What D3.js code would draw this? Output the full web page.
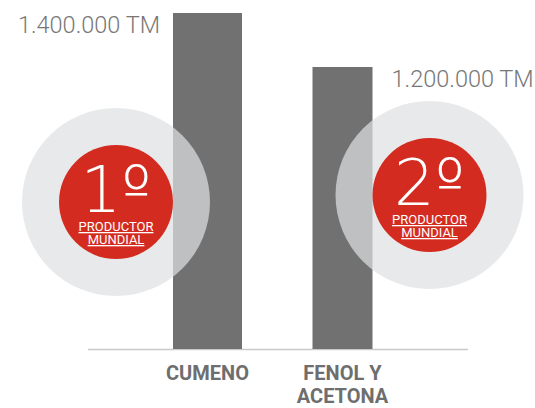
<!DOCTYPE html>
<html>
<head>
	<meta charset="utf-8">
	<title>Cumeno / Fenol y Acetona</title>
	<script src="https://d3js.org/d3.v7.min.js"></script>
	<style>
		body { margin: 0; background: #fff; }
	</style>
</head>
<body>
	<div class="chart"></div>

	<script type="text/javascript">
		// datos
		var categories = ['CUMENO', 'FENOL Y ACETONA']
		var categoryLines = [['CUMENO'], ['FENOL Y', 'ACETONA']]
		var values = [1400000, 1200000]
		var unit = 'TM'
		var ranks = ['1', '2']
		var rankLines = ['PRODUCTOR', 'MUNDIAL']

		var width = 535
		var height = 408
		var baseY = 349

		var grey = '#717171'
		var red = '#d42b20'

		// formato español: 1.400.000
		var es = d3.formatLocale({ decimal: ',', thousands: '.', grouping: [3], currency: ['', ''] })
		var fmt = es.format(',d')

		var svg = d3
			.select('.chart')
			.append('svg')
			.attr('width', width)
			.attr('height', height)

		// escalas
		var xScale = d3
			.scalePoint()
			.domain(categories)
			.range([140, 410])
			.padding(0.5)

		var yScale = d3
			.scaleLinear()
			.domain([0, 1400000])
			.range([391, 13])

		var barW = [69, 60]

		// línea base
		svg.append('line')
			.attr('x1', 88)
			.attr('x2', 468)
			.attr('y1', baseY + 0.5)
			.attr('y2', baseY + 0.5)
			.attr('stroke', '#c9c9c9')
			.attr('stroke-width', 1.5)

		// barras
		svg.selectAll('rect.bar')
			.data(values)
			.enter()
			.append('rect')
			.attr('class', 'bar')
			.attr('x', (d, i) => xScale(categories[i]) - barW[i] / 2)
			.attr('y', d => yScale(d))
			.attr('width', (d, i) => barW[i])
			.attr('height', d => baseY - yScale(d))
			.attr('fill', grey)

		// etiquetas de valor
		svg.selectAll('text.value')
			.data(values)
			.enter()
			.append('text')
			.attr('class', 'value')
			.attr('x', (d, i) => i === 0
				? xScale(categories[i]) - barW[i] / 2 - 13
				: xScale(categories[i]) + barW[i] / 2 + 19)
			.attr('y', d => yScale(d) + 20)
			.attr('text-anchor', (d, i) => i === 0 ? 'end' : 'start')
			.style('font-family', 'Roboto, sans-serif')
			.style('font-weight', 300)
			.style('font-size', '23.5px')
			.style('fill', '#777')
			.text(d => fmt(d) + ' ' + unit)

		// círculos (ranking)
		var redR = 57
		var greyR = 94
		var centers = values.map((d, i) => ({
			x: i === 0
				? xScale(categories[i]) - barW[i] / 2 - redR
				: xScale(categories[i]) + barW[i] / 2 + redR,
			y: i === 0 ? 202 : 195
		}))

		svg.selectAll('circle.halo')
			.data(centers)
			.enter()
			.append('circle')
			.attr('class', 'halo')
			.attr('cx', d => d.x)
			.attr('cy', d => d.y)
			.attr('r', greyR)
			.attr('fill', '#dfe0e1')
			.attr('fill-opacity', 0.71)

		svg.selectAll('circle.rank')
			.data(centers)
			.enter()
			.append('circle')
			.attr('class', 'rank')
			.attr('cx', d => d.x)
			.attr('cy', d => d.y)
			.attr('r', redR)
			.attr('fill', red)

		// texto del ranking: un solo <text> con tspans
		var rankT = svg.selectAll('text.rankText')
			.data(centers)
			.enter()
			.append('text')
			.attr('class', 'rankText')
			.attr('transform', d => `translate(${d.x}, ${d.y})`)
			.attr('text-anchor', 'middle')
			.style('fill', '#fff')
			.style('font-family', 'Roboto, sans-serif')
			.style('font-size', '13px')

		rankT.append('tspan')
			.attr('x', 0)
			.attr('y', 10)
			.style('font-family', '"DejaVu Sans", sans-serif')
			.style('font-weight', 200)
			.style('font-size', '64px')
			.text((d, i) => ranks[i] + 'º')

		rankLines.forEach((line, j) => {
			rankT.append('tspan')
				.attr('x', 0)
				.attr('y', 29 + j * 13)
				.style('text-decoration', 'underline')
				.text(line)
		})

		// etiquetas de categoría
		var catG = svg.selectAll('text.cat')
			.data(categories)
			.enter()
			.append('text')
			.attr('class', 'cat')
			.attr('x', d => xScale(d))
			.attr('y', 380)
			.attr('text-anchor', 'middle')
			.style('font-family', 'Roboto, sans-serif')
			.style('font-weight', 700)
			.style('font-size', '20px')
			.style('fill', '#6e6e6e')

		catG.selectAll('tspan')
			.data((d, i) => categoryLines[i])
			.enter()
			.append('tspan')
			.attr('x', function () { return d3.select(this.parentNode).attr('x') })
			.attr('dy', (d, i) => i === 0 ? 0 : 23)
			.text(d => d)
	</script>
</body>
</html>
